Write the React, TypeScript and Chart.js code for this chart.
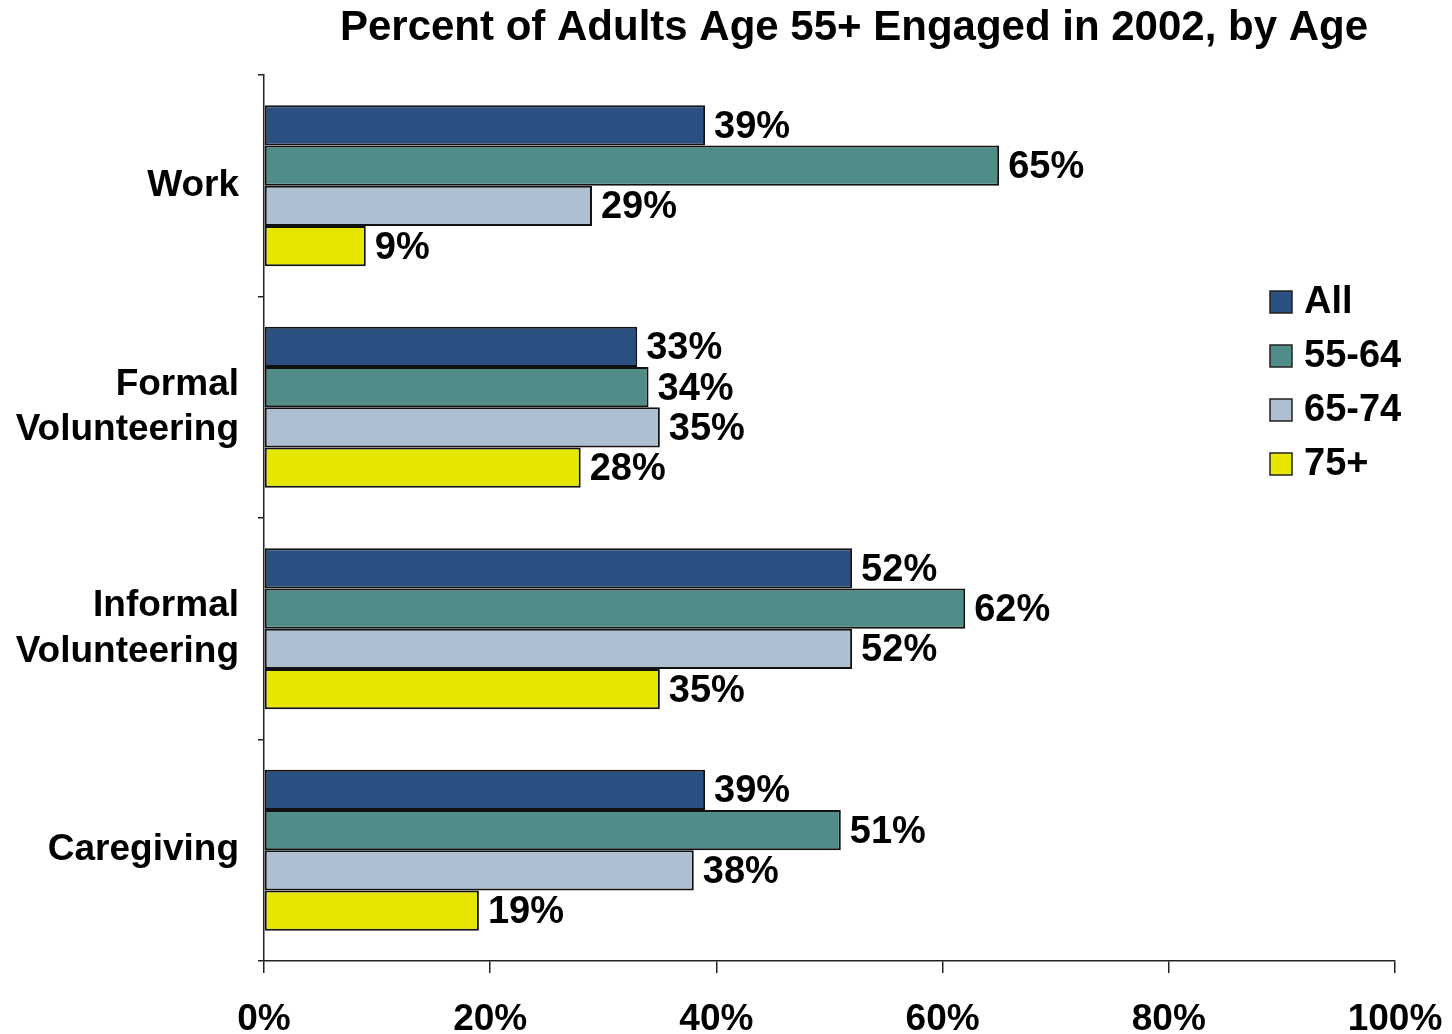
import React, { useEffect, useRef } from "react";
import { Chart, registerables } from "chart.js";

Chart.register(...registerables);

const categories: (string | string[])[] = ["Work", ["Formal", "Volunteering"], ["Informal", "Volunteering"], "Caregiving"];
const seriesNames = ["All", "55-64", "65-74", "75+"];
const allValues = [39, 33, 52, 39];
const age5564Values = [65, 34, 62, 51];
const age6574Values = [29, 35, 52, 38];
const age75Values = [9, 28, 35, 19];
const xTicks = [0, 20, 40, 60, 80, 100];
const titleText = "Percent of Adults Age 55+ Engaged in 2002, by Age";

const colors = ["#2A5082", "#508C88", "#ADBFD0", "#E6E600"];
const FONT = '"Liberation Sans", Arial, sans-serif';

export default function App() {
  const ref = useRef<HTMLCanvasElement | null>(null);

  useEffect(() => {
    document.body.style.margin = "0";
    const canvas = ref.current;
    if (!canvas) return;

    const overlay = {
      id: "overlay",
      afterDraw(chart: any) {
        const ctx = chart.ctx;
        ctx.save();
        // title
        ctx.fillStyle = "#000";
        ctx.font = `bold 42px ${FONT}`;
        ctx.textAlign = "center";
        ctx.textBaseline = "middle";
        ctx.fillText(titleText, 854, 28);
        // data labels
        ctx.font = `bold 38px ${FONT}`;
        ctx.textAlign = "left";
        chart.data.datasets.forEach((ds: any, di: number) => {
          const meta = chart.getDatasetMeta(di);
          meta.data.forEach((el: any, i: number) => {
            ctx.fillText(`${ds.data[i]}%`, el.x + 9, el.y + 2);
          });
        });
        // legend
        const legendY = [302, 356, 410, 464];
        seriesNames.forEach((name, i) => {
          const y = legendY[i];
          ctx.fillStyle = colors[i];
          ctx.fillRect(1270, y - 11, 22, 22);
          ctx.strokeStyle = "#222";
          ctx.lineWidth = 1.5;
          ctx.strokeRect(1270, y - 11, 22, 22);
          ctx.fillStyle = "#000";
          ctx.font = `bold 38px ${FONT}`;
          ctx.fillText(name, 1304, y + 1);
        });
        ctx.restore();
      },
    };

    const chart = new Chart(canvas, {
      type: "bar",
      data: {
        labels: categories,
        datasets: [
          { label: seriesNames[0], data: allValues, backgroundColor: colors[0] },
          { label: seriesNames[1], data: age5564Values, backgroundColor: colors[1] },
          { label: seriesNames[2], data: age6574Values, backgroundColor: colors[2] },
          { label: seriesNames[3], data: age75Values, backgroundColor: colors[3] },
        ].map((d) => ({
          ...d,
          borderColor: "#111",
          borderWidth: 2,
          borderSkipped: false,
          categoryPercentage: 0.727,
          barPercentage: 1,
        })),
      },
      options: {
        indexAxis: "y",
        responsive: false,
        animation: false,
        devicePixelRatio: 1,
        layout: { padding: { top: 75, right: 57, left: 0, bottom: 0 } },
        plugins: {
          legend: { display: false },
          title: { display: false },
          tooltip: { enabled: false },
        },
        scales: {
          x: {
            type: "linear",
            min: 0,
            max: 100,
            afterBuildTicks(scale: any) {
              scale.ticks = xTicks.map((v) => ({ value: v }));
            },
            afterFit(scale: any) {
              scale.height = 73;
              scale.paddingLeft = 0;
              scale.paddingRight = 0;
            },
            ticks: {
              callback: (v: any) => `${v}%`,
              color: "#000",
              font: { family: FONT, size: 37, weight: "bold" },
              padding: 25,
              maxRotation: 0,
              autoSkip: false,
            },
            grid: {
              drawOnChartArea: false,
              drawTicks: true,
              tickLength: 12,
              color: "#222",
              lineWidth: 1.5,
            },
            border: { display: true, color: "#222", width: 1.5 },
          },
          y: {
            type: "category",
            afterFit(scale: any) {
              scale.width = 264;
              scale.paddingTop = 0;
              scale.paddingBottom = 0;
            },
            ticks: {
              color: "#000",
              font: { family: FONT, size: 37, weight: "bold", lineHeight: 1.22 },
              padding: 19,
              autoSkip: false,
            },
            grid: {
              offset: true,
              drawOnChartArea: false,
              drawTicks: true,
              tickLength: 6,
              color: "#222",
              lineWidth: 1.5,
            },
            border: { display: true, color: "#222", width: 1.5 },
          },
        },
      },
      plugins: [overlay],
    } as any);

    return () => chart.destroy();
  }, []);

  return (
    <div style={{ position: "absolute", left: 0, top: 0, width: 1452, height: 1034, background: "#fff" }}>
      <canvas ref={ref} width={1452} height={1034} style={{ width: 1452, height: 1034 }} />
    </div>
  );
}
